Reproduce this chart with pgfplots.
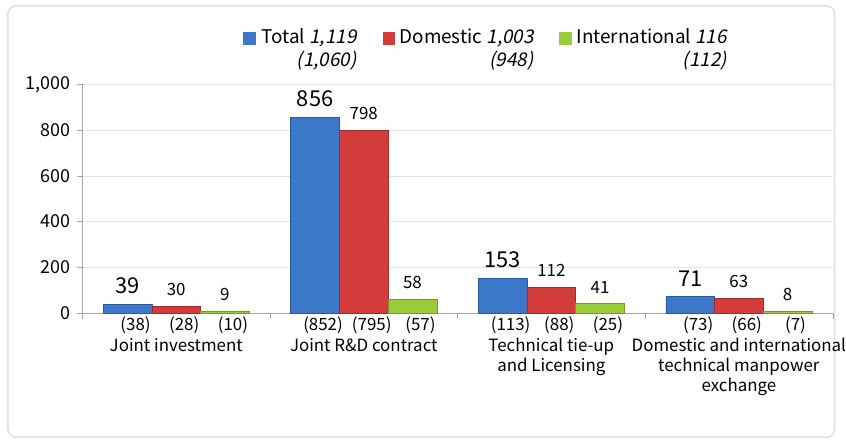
\documentclass[border=0pt]{standalone}
\usepackage{fontspec}
\setmainfont{Noto Sans CJK KR}[ItalicFont=Noto Sans CJK KR, ItalicFeatures={FakeSlant=0.2}]
\usepackage{pgfplots}
\pgfplotsset{compat=1.18}
\usepackage{pgfplotstable}

\definecolor{cblue}{HTML}{3C78CA}
\definecolor{cred}{HTML}{D43B3B}
\definecolor{cgreen}{HTML}{9CCB3A}

\pgfplotstableread{
x total dom intl ptotal pdom pintl
0 39 30 9 (38) (28) (10)
1 856 798 58 (852) (795) (57)
2 153 112 41 (113) (88) (25)
3 71 63 8 (73) (66) (7)
}\data

\begin{document}
\begin{tikzpicture}[x=1pt,y=1pt]
\path (0,0) rectangle (846,446);
\draw[gray!25, line width=1.5pt, rounded corners=8pt, fill=white] (8,6) rectangle (840,440);
\begin{axis}[
  at={(83pt,131pt)}, anchor=south west, scale only axis,
  width=755pt, height=230pt,
  xmin=-0.5, xmax=3.5, ymin=0, ymax=1000,
  axis x line*=bottom, axis y line*=left,
  axis line style={gray!70},
  ytick={0,200,...,1000},
  xtick={-0.5,0.5,1.5,2.5,3.5}, xticklabels={},
  tick align=outside, major tick length=6pt,
  tick style={gray!70},
  ymajorgrids, grid style={gray!22},
  yticklabel style={font=\fontsize{18}{18}\selectfont, xshift=-3pt},
  /pgf/number format/1000 sep={,},
  /pgf/number format/assume math mode=true,
  clip=false,
  bar width=49pt,
]
\addplot[ybar, bar shift=-49pt, fill=cblue, draw=cblue!75!black, line width=0.6pt,
  nodes near coords, every node near coord/.append style={font=\fontsize{22}{22}\selectfont, text=black, xshift=-49pt, yshift=7pt}]
  table[x=x, y=total]{\data};
\addplot[ybar, bar shift=0pt, fill=cred, draw=cred!75!black, line width=0.6pt,
  nodes near coords, every node near coord/.append style={font=\fontsize{17}{17}\selectfont, text=black, yshift=7pt}]
  table[x=x, y=dom]{\data};
\addplot[ybar, bar shift=49pt, fill=cgreen, draw=cgreen!75!black, line width=0.6pt,
  nodes near coords, every node near coord/.append style={font=\fontsize{17}{17}\selectfont, text=black, xshift=49pt, yshift=7pt}]
  table[x=x, y=intl]{\data};

\addplot[ybar, bar shift=-49pt, draw=none, fill=none, forget plot,
  nodes near coords, point meta=explicit symbolic, nodes near coords align=below,
  every node near coord/.append style={font=\fontsize{17}{17}\selectfont, text=black, xshift=-41pt, yshift=0pt}]
  table[x=x, y expr=0, meta=ptotal]{\data};
\addplot[ybar, bar shift=0pt, draw=none, fill=none, forget plot,
  nodes near coords, point meta=explicit symbolic, nodes near coords align=below,
  every node near coord/.append style={font=\fontsize{17}{17}\selectfont, text=black, xshift=8pt, yshift=0pt}]
  table[x=x, y expr=0, meta=pdom]{\data};
\addplot[ybar, bar shift=49pt, draw=none, fill=none, forget plot,
  nodes near coords, point meta=explicit symbolic, nodes near coords align=below,
  every node near coord/.append style={font=\fontsize{17}{17}\selectfont, text=black, xshift=57pt, yshift=0pt}]
  table[x=x, y expr=0, meta=pintl]{\data};

\begin{scope}[every node/.style={anchor=north, align=center, inner sep=0pt, font=\fontsize{17}{20}\selectfont}]
\node at (axis cs:0,0) [yshift=-25pt] {Joint investment};
\node at (axis cs:1,0) [yshift=-25pt] {Joint R\&D contract};
\node at (axis cs:2,0) [yshift=-25pt] {Technical tie-up\\and Licensing};
\node at (axis cs:3,0) [yshift=-25pt] {Domestic and international\\technical manpower\\exchange};
\end{scope}
\end{axis}

% legend
\begin{scope}[every node/.style={inner sep=0pt, font=\fontsize{19}{19}\selectfont}]
\fill[cblue] (245,401) rectangle (258,414);
\node[anchor=base west] at (263,402) {\begin{tabular}[t]{@{}r@{}}Total \textit{1,119}\\[2pt] \textit{(1,060)}\end{tabular}};
\fill[cred] (385,401) rectangle (398,414);
\node[anchor=base west] at (402,402) {\begin{tabular}[t]{@{}r@{}}Domestic \textit{1,003}\\[2pt] \textit{(948)}\end{tabular}};
\fill[cgreen] (563,401) rectangle (576,414);
\node[anchor=base west] at (580,402) {\begin{tabular}[t]{@{}r@{}}International \textit{116}\\[2pt] \textit{(112)}\end{tabular}};
\end{scope}
\end{tikzpicture}
\end{document}
